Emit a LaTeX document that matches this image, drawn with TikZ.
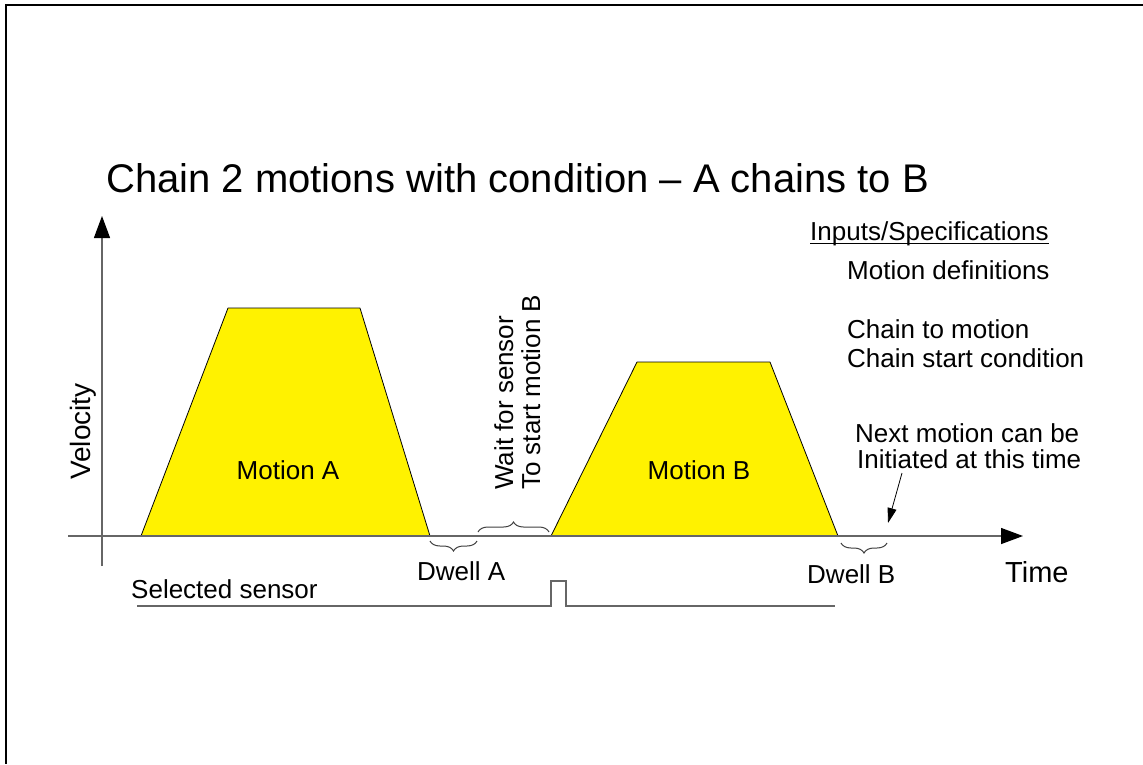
\documentclass[tikz,border=0pt]{standalone}
\usepackage{fontspec}
\setmainfont{Liberation Sans}
\usetikzlibrary{arrows.meta,decorations.pathreplacing}
\begin{document}
\begin{tikzpicture}[x=1pt,y=-1pt,
  lbl/.style={font=\fontsize{26}{26}\selectfont, inner sep=0pt, anchor=base west},
  axisline/.style={draw=black!60, line width=1.3pt},
  bigtip/.style={-{Triangle[length=22pt,width=16pt,color=black]}},
  motionfill/.style={fill=yellow},
  motionedge/.style={draw=black, line width=0.8pt, line join=round},
  bracestyle/.style={draw=black!75, line width=1pt, decorate, decoration={brace, amplitude=10pt}},
  sensorline/.style={draw=black!60, line width=1.3pt},
  pointer/.style={draw=black, line width=0.8pt, -{Triangle[length=15pt,width=9pt]}}]
\useasboundingbox (0,0) rectangle (1143,764);
\fill[white] (0,0) rectangle (1143,764);
\draw[line width=1.5pt] (1143,5) -- (6,5) -- (6,764);

% motion profiles
\fill[motionfill] (141,536) -- (228,308) -- (360,308) -- (430,536) -- cycle;
\draw[motionedge] (141,536) -- (228,308) -- (360,308) -- (430,536);
\fill[motionfill] (551,536) -- (637,362) -- (770,362) -- (838,536) -- cycle;
\draw[motionedge] (551,536) -- (637,362) -- (770,362) -- (838,536);

% axes
\coordinate (yb) at (102,566);
\coordinate (yt) at (102,216);
\coordinate (xl) at (68,536);
\coordinate (xr) at (1023,536);
\draw[axisline,bigtip] (yb) -- (yt);
\draw[axisline,bigtip] (xl) -- (xr);

% title
\node[font=\fontsize{40}{40}\selectfont, inner sep=0pt, anchor=base west] (title) at (106,192) {Chain 2 motions with condition – A chains to B};

% specification list
\node[lbl] (inputs) at (810,240) {Inputs/Specifications};
\draw[line width=1pt] ([yshift=-3pt]inputs.base west) -- ([yshift=-3pt]inputs.base east);
\node[lbl] (mdef) at (847,279) {Motion definitions};
\node[lbl] (cto) at (847,338) {Chain to motion};
\node[lbl] (cstart) at (847,367) {Chain start condition};

% labels
\node[font=\fontsize{28}{28}\selectfont, inner sep=0pt, anchor=base west, rotate=90] (vel) at (90,480) {Velocity};
\node[lbl, anchor=base] (ma) at (288,479) {Motion A};
\node[lbl, anchor=base] (mb) at (699,479) {Motion B};
\node[lbl, rotate=90] (wait1) at (513,490) {Wait for sensor};
\node[lbl, rotate=90] (wait2) at (540,490) {To start motion B};
\node[lbl] (dwa) at (417,580) {Dwell A};
\node[lbl] (dwb) at (807,583) {Dwell B};
\node[font=\fontsize{29}{29}\selectfont, inner sep=0pt, anchor=base west] (time) at (1005,582) {Time};
\node[lbl] (sens) at (131,598) {Selected sensor};
\node[lbl] (next1) at (855,442) {Next motion can be};
\node[lbl] (next2) at (857,468) {Initiated at this time};

% braces
\coordinate (da1) at (477,541);
\coordinate (da2) at (430,541);
\coordinate (w1) at (478,532);
\coordinate (w2) at (549,532);
\coordinate (db1) at (887,543);
\coordinate (db2) at (841,543);
\draw[bracestyle] (da1) -- (da2);
\draw[bracestyle] (w1) -- (w2);
\draw[bracestyle] (db1) -- (db2);

% pointer
\coordinate (ps) at (902,473);
\coordinate (pe) at (888,523);
\draw[pointer] (ps) -- (pe);

% sensor signal
\coordinate (s0) at (137,606);
\coordinate (s1) at (551,606);
\coordinate (s2) at (551,581);
\coordinate (s3) at (566,581);
\coordinate (s4) at (566,606);
\coordinate (s5) at (835,606);
\draw[sensorline] (s0) -- (s1) -- (s2) -- (s3) -- (s4) -- (s5);
\end{tikzpicture}
\end{document}
